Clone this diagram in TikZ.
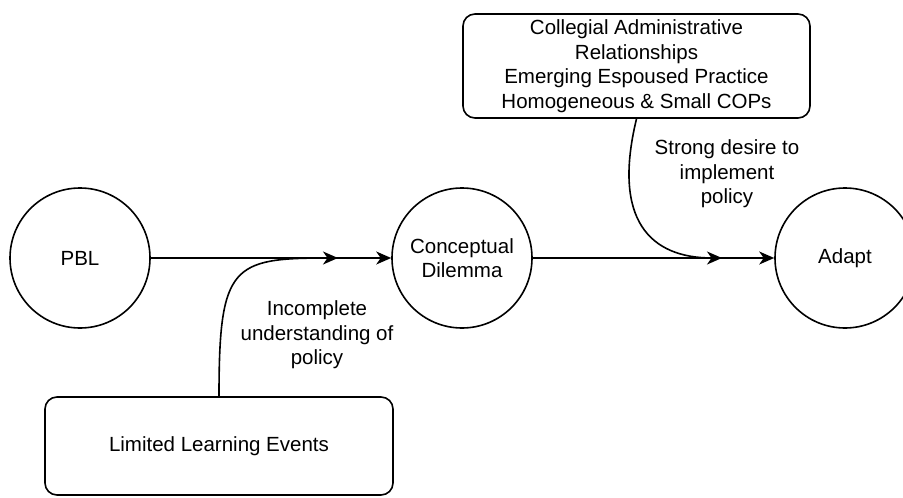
\documentclass[tikz,border=0pt]{standalone}
\usepackage{fontspec}
\setmainfont{Liberation Sans}
\usetikzlibrary{arrows.meta}

\begin{document}
\begin{tikzpicture}[x=1pt, y=-1pt, line width=1.6pt,
	every node/.style={font=\fontsize{20.5}{24.6}\selectfont, align=center},
	state/.style={draw, circle, minimum size=140pt, inner sep=0pt},
	factor/.style={draw, rounded corners=12pt, minimum width=347pt, minimum height=104pt, inner sep=0pt},
	flow/.style={-{Stealth[length=15pt, width=13pt, inset=4.5pt]}}]
	\useasboundingbox (0,0) rectangle (903,498);
	\node[state] (pbl) at (80,258) {PBL};
	\node[state] (dilemma) at (462,258) {Conceptual\\Dilemma};
	\node[state] (adapt) at (845,258) {Adapt};
	\node[factor] (admin) at (636.5,66) {Collegial Administrative\\Relationships\\Emerging Espoused Practice\\Homogeneous \& Small COPs};
	\node[factor, minimum width=348pt, minimum height=98pt] (events) at (219,446) {Limited Learning Events};
	\coordinate (j1) at (338,258);
	\coordinate (j2) at (722,258);
	\node (why1) at (317,335) {Incomplete\\understanding of\\policy};
	\node (why2) at (727,174) {Strong desire to\\implement\\policy};
	\draw[flow] (pbl) -- (dilemma);
	\draw[flow] (dilemma) -- (adapt);
	\draw[flow] (events.north) .. controls (219,265) and (232,258) .. (j1);
	\draw[flow] (admin.south) .. controls (612,220) and (650,258) .. (j2);
\end{tikzpicture}
\end{document}
